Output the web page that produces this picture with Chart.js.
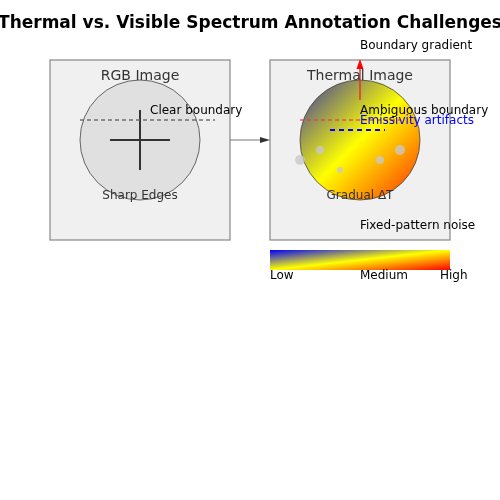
<!DOCTYPE html>
<html>
<head>
<meta charset="utf-8">
<script src="https://cdn.jsdelivr.net/npm/chart.js@4/dist/chart.umd.min.js"></script>
<style>body{margin:0;background:#fff}</style>
</head>
<body>
<canvas id="c" width="500" height="500"></canvas>
<script>
const boxes = [
  { x: 50, y: 60, w: 180, h: 180, title: 'RGB Image' },
  { x: 270, y: 60, w: 180, h: 180, title: 'Thermal Image' },
];
const circles = [
  { x: 140, y: 140, r: 60, label: 'Sharp Edges', thermal: false },
  { x: 360, y: 140, r: 60, label: 'Gradual ΔT', thermal: true },
];
const noiseDots = [
  { x: 300, y: 160, r: 5 },
  { x: 320, y: 150, r: 4 },
  { x: 340, y: 170, r: 3 },
  { x: 380, y: 160, r: 4 },
  { x: 400, y: 150, r: 5 },
];
const dashedLines = [
  { x1: 80, y1: 120, x2: 215, y2: 120, color: 'rgba(100,100,100,0.9)', width: 1.5, dash: [4, 3] },
  { x1: 300, y1: 120, x2: 400, y2: 120, color: 'rgba(230,60,60,0.8)', width: 1.5, dash: [4, 3] },
  { x1: 330, y1: 130, x2: 385, y2: 130, color: '#0000ff', width: 2, dash: [5, 4] },
];
const crossLines = [
  { x1: 110, y1: 140, x2: 170, y2: 140 },
  { x1: 140, y1: 110, x2: 140, y2: 170 },
];
const annotations = [
  { x: 150, y: 111, text: 'Clear boundary', color: '#000' },
  { x: 360, y: 46, text: 'Boundary gradient', color: '#000' },
  { x: 360, y: 111, text: 'Ambiguous boundary', color: '#000' },
  { x: 360, y: 121, text: 'Emissivity artifacts', color: '#0000ff' },
  { x: 360, y: 226, text: 'Fixed-pattern noise', color: '#000' },
];
const colorbar = { x: 270, y: 250, w: 180, h: 20 };
const tickLabels = [
  { x: 270, text: 'Low' },
  { x: 360, text: 'Medium' },
  { x: 440, text: 'High' },
];

// fill a path with a blue-yellow-red gradient stretched to its bounding box
const fillThermal = (ctx, x, y, w, h, pathFn, stops) => {
  ctx.save();
  ctx.translate(x, y);
  ctx.scale(w, h);
  const g = ctx.createLinearGradient(0, 0, 1, 1);
  stops.forEach(([p, c]) => g.addColorStop(p, c));
  ctx.fillStyle = g;
  pathFn();
  ctx.fill();
  ctx.restore();
};

const drawDiagram = {
  id: 'drawDiagram',
  beforeDatasetsDraw(chart) {
    const { ctx } = chart;
    const sx = chart.scales.x;
    const sy = chart.scales.y;
    const X = (v) => sx.getPixelForValue(v);
    const Y = (v) => sy.getPixelForValue(v);
    const font = (s, b) => `${b ? 'bold ' : ''}${s}px "DejaVu Sans", sans-serif`;

    ctx.save();
    ctx.fillStyle = '#000';
    ctx.font = font(17, true);
    ctx.textAlign = 'center';
    ctx.textBaseline = 'middle';
    ctx.fillText('Thermal vs. Visible Spectrum Annotation Challenges', X(250), Y(24));

    boxes.forEach((b) => {
      ctx.fillStyle = '#f0f0f0';
      ctx.strokeStyle = '#888';
      ctx.lineWidth = 1.2;
      ctx.fillRect(X(b.x), Y(b.y), X(b.x + b.w) - X(b.x), Y(b.y + b.h) - Y(b.y));
      ctx.strokeRect(X(b.x), Y(b.y), X(b.x + b.w) - X(b.x), Y(b.y + b.h) - Y(b.y));
    });

    ctx.strokeStyle = '#777';
    ctx.lineWidth = 1;
    ctx.beginPath();
    ctx.moveTo(X(230), Y(140));
    ctx.lineTo(X(262), Y(140));
    ctx.stroke();
    ctx.fillStyle = '#333';
    ctx.beginPath();
    ctx.moveTo(X(270), Y(140));
    ctx.lineTo(X(260), Y(137));
    ctx.lineTo(X(260), Y(143));
    ctx.fill();

    circles.forEach((c) => {
      const r = X(c.x + c.r) - X(c.x);
      if (c.thermal) {
        fillThermal(ctx, X(c.x - c.r), Y(c.y - c.r), 2 * r, 2 * r, () => {
          ctx.beginPath();
          ctx.arc(0.5, 0.5, 0.5, 0, Math.PI * 2);
        }, [[0, '#3636a6'], [0.5, '#ffff00'], [1, '#ff2a00']]);
      } else {
        ctx.fillStyle = '#e0e0e0';
        ctx.beginPath();
        ctx.arc(X(c.x), Y(c.y), r, 0, Math.PI * 2);
        ctx.fill();
      }
      ctx.beginPath();
      ctx.arc(X(c.x), Y(c.y), r, 0, Math.PI * 2);
      ctx.strokeStyle = '#444';
      ctx.lineWidth = 0.8;
      ctx.stroke();
    });

    ctx.strokeStyle = '#333';
    ctx.lineWidth = 2;
    crossLines.forEach((l) => {
      ctx.beginPath();
      ctx.moveTo(X(l.x1), Y(l.y1));
      ctx.lineTo(X(l.x2), Y(l.y2));
      ctx.stroke();
    });

    dashedLines.forEach((l) => {
      ctx.strokeStyle = l.color;
      ctx.lineWidth = l.width;
      ctx.setLineDash(l.dash);
      ctx.beginPath();
      ctx.moveTo(X(l.x1), Y(l.y1));
      ctx.lineTo(X(l.x2), Y(l.y2));
      ctx.stroke();
    });
    ctx.setLineDash([]);

    ctx.strokeStyle = 'rgba(230,40,40,0.9)';
    ctx.lineWidth = 1.5;
    ctx.beginPath();
    ctx.moveTo(X(360), Y(100));
    ctx.lineTo(X(360), Y(66));
    ctx.stroke();
    ctx.fillStyle = '#ff0000';
    ctx.beginPath();
    ctx.moveTo(X(360), Y(59));
    ctx.lineTo(X(356.5), Y(69));
    ctx.lineTo(X(363.5), Y(69));
    ctx.fill();

    ctx.fillStyle = '#333';
    ctx.font = font(14);
    boxes.forEach((b) => ctx.fillText(b.title, X(b.x + b.w / 2), Y(b.y + 16)));
    ctx.font = font(12);
    circles.forEach((c) => ctx.fillText(c.label, X(c.x), Y(c.y + c.r - 4)));

    fillThermal(ctx, X(colorbar.x), Y(colorbar.y), X(colorbar.x + colorbar.w) - X(colorbar.x), Y(colorbar.y + colorbar.h) - Y(colorbar.y), () => {
      ctx.beginPath();
      ctx.rect(0, 0, 1, 1);
    }, [[0, '#0000ff'], [0.5, '#ffff00'], [1, '#ff0000']]);

    ctx.fillStyle = '#000';
    ctx.font = font(12);
    ctx.textAlign = 'left';
    tickLabels.forEach((t) => ctx.fillText(t.text, X(t.x), Y(colorbar.y + colorbar.h + 6)));
    annotations.forEach((a) => {
      ctx.fillStyle = a.color;
      ctx.fillText(a.text, X(a.x), Y(a.y));
    });
    ctx.restore();
  },
};

new Chart(document.getElementById('c'), {
  type: 'scatter',
  data: {
    datasets: [
      {
        data: noiseDots.map((d) => ({ x: d.x, y: d.y })),
        pointRadius: noiseDots.map((d) => d.r),
        backgroundColor: 'rgba(200,200,200,0.8)',
        borderWidth: 0,
      },
    ],
  },
  options: {
    responsive: false,
    animation: false,
    layout: { padding: 0, autoPadding: false },
    scales: {
      x: { type: 'linear', min: 0, max: 500, display: false },
      y: { type: 'linear', min: 0, max: 500, reverse: true, display: false },
    },
    plugins: { legend: { display: false }, tooltip: { enabled: false } },
  },
  plugins: [drawDiagram],
});
</script>
</body>
</html>
